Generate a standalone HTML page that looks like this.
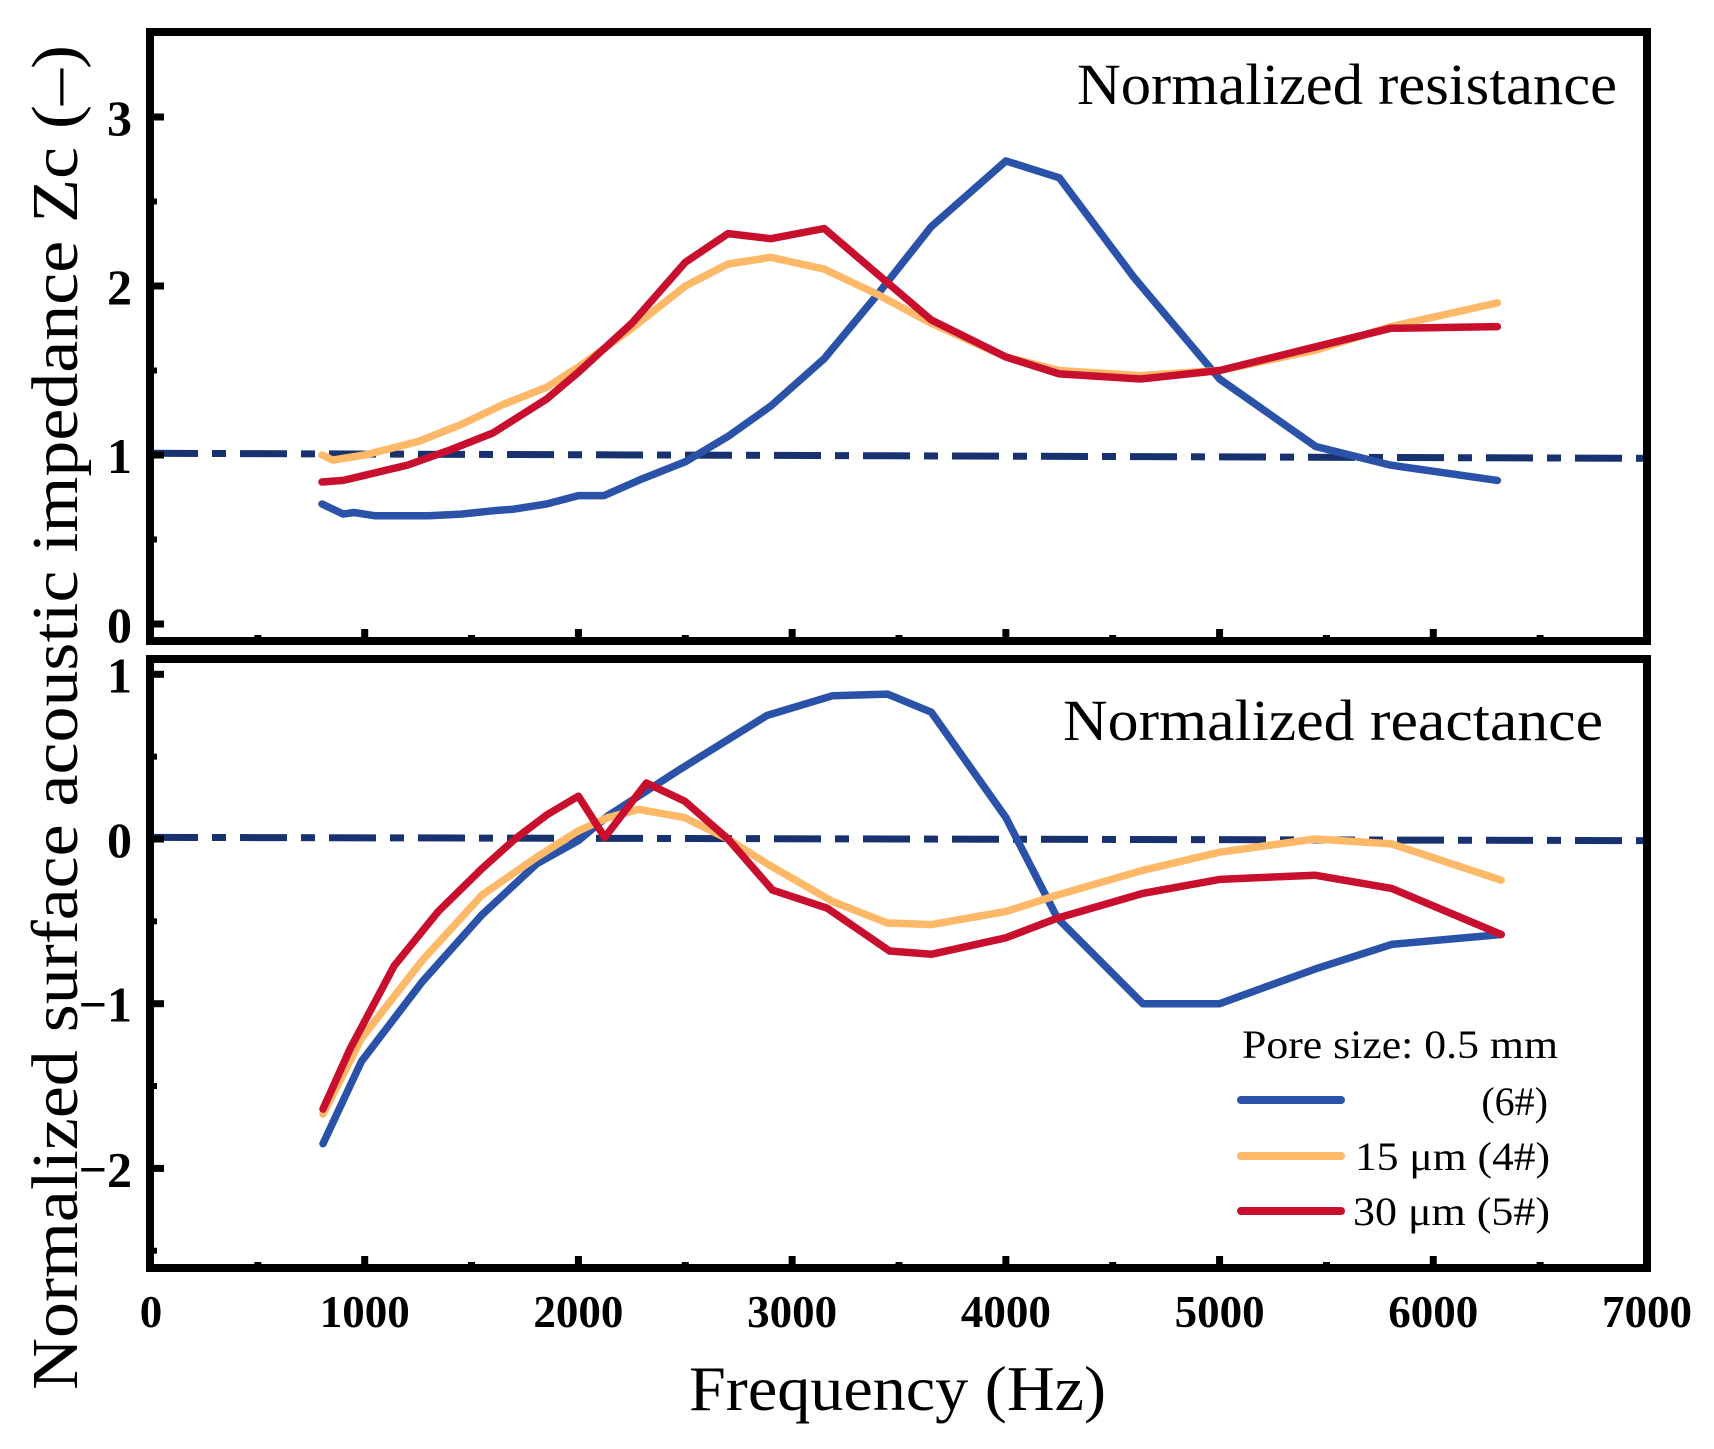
<!DOCTYPE html>
<html><head><meta charset="utf-8"><style>
html,body{margin:0;padding:0;background:#fff}
svg{display:block}
text{font-family:"Liberation Serif",serif;fill:#000}
</style></head><body>
<svg id="chart" width="1714" height="1449" viewBox="0 0 1714 1449">
<g id="g"></g>
<text x="1077" y="104" font-size="58" textLength="540" lengthAdjust="spacingAndGlyphs">Normalized resistance</text>
<text x="1063" y="740" font-size="58" textLength="540" lengthAdjust="spacingAndGlyphs">Normalized reactance</text>
<text x="689" y="1410" font-size="64" textLength="417" lengthAdjust="spacingAndGlyphs">Frequency (Hz)</text>
<text transform="translate(77,1390) rotate(-90)" x="0" y="0" font-size="66" textLength="1345" lengthAdjust="spacingAndGlyphs">Normalized surface acoustic impedance Zc (–)</text>
<g>
<text x="1242" y="1058" font-size="40" textLength="316" lengthAdjust="spacingAndGlyphs">Pore size: 0.5 mm</text>
<line x1="1241" y1="1100" x2="1341" y2="1100" stroke="#2a52a8" stroke-width="8" stroke-linecap="round"/>
<text x="1548" y="1115" font-size="40" text-anchor="end">(6#)</text>
<line x1="1241" y1="1156" x2="1341" y2="1156" stroke="#fdb868" stroke-width="8" stroke-linecap="round"/>
<text x="1355" y="1170" font-size="40" textLength="195" lengthAdjust="spacingAndGlyphs">15 μm (4#)</text>
<line x1="1241" y1="1211" x2="1341" y2="1211" stroke="#c8102e" stroke-width="8" stroke-linecap="round"/>
<text x="1353" y="1225" font-size="40" textLength="197" lengthAdjust="spacingAndGlyphs">30 μm (5#)</text>
</g>
</svg>
<script>
const freqBlueR=[800,900,950,1050,1200,1300,1450,1600,1700,1850,2000,2120,2300,2500,2700,2900,3150,3400,3650,4000,4250,4600,5000,5450,5800,6300];
const blueR=[0.71,0.65,0.66,0.64,0.64,0.64,0.65,0.67,0.68,0.71,0.76,0.76,0.86,0.96,1.11,1.29,1.57,1.95,2.35,2.74,2.64,2.05,1.45,1.05,0.94,0.85];
const freqOrangeR=[800,850,1000,1250,1450,1650,1850,2000,2250,2500,2700,2900,3150,3400,3650,4000,4250,4630,5000,5450,5800,6300];
const orangeR=[1.0,0.97,1.0,1.08,1.18,1.3,1.4,1.52,1.75,2.0,2.13,2.17,2.1,1.95,1.78,1.58,1.5,1.47,1.5,1.62,1.76,1.9];
const freqRedR=[800,900,1000,1200,1400,1600,1850,2000,2250,2500,2700,2900,3150,3400,3650,4000,4250,4630,5000,5450,5800,6300];
const redR=[0.84,0.85,0.88,0.94,1.03,1.13,1.33,1.49,1.78,2.14,2.31,2.28,2.34,2.07,1.8,1.58,1.48,1.45,1.5,1.64,1.75,1.76];
const freqBlueX=[805,985,1267,1549,1805,2000,2138,2472,2882,3190,3446,3651,4000,4241,4641,5000,5446,5805,6318];
const blueX=[-1.85,-1.35,-0.87,-0.46,-0.15,-0.01,0.14,0.42,0.75,0.87,0.88,0.77,0.13,-0.48,-1.0,-1.0,-0.79,-0.64,-0.58];
const freqOrangeX=[805,985,1267,1549,1805,2000,2138,2282,2497,2700,2882,3190,3446,3651,4000,4241,4641,5000,5446,5805,6318];
const orangeX=[-1.67,-1.21,-0.74,-0.34,-0.11,0.05,0.13,0.18,0.13,0,-0.15,-0.38,-0.51,-0.52,-0.44,-0.34,-0.19,-0.08,0,-0.03,-0.25];
const freqRedX=[805,933,1138,1344,1549,1703,1856,2000,2123,2318,2497,2700,2908,3164,3456,3651,4000,4241,4641,5000,5446,5805,6318];
const redX=[-1.64,-1.27,-0.77,-0.44,-0.18,0,0.15,0.26,0.01,0.34,0.23,0,-0.31,-0.42,-0.68,-0.7,-0.6,-0.48,-0.33,-0.245,-0.22,-0.3,-0.58];
const xTicks=[0,1000,2000,3000,4000,5000,6000,7000];
const yTicksTop=[0,1,2,3];
const yTicksBot=[-2,-1,0,1];
const refTop=[1.01,0.98];
const refBot=[0.01,-0.01];

const NS="http://www.w3.org/2000/svg";
const g=document.getElementById('g');
function X(f){return 151+f*(1647-151)/7000;}
function Yt(v){return 624-v*169;}
function Yb(v){return 839-v*164.7;}
function mk(tag,attrs,parent){const e=document.createElementNS(NS,tag);for(const k in attrs)e.setAttribute(k,attrs[k]);(parent||g).appendChild(e);return e;}
function series(fs,vs,Y,color,name){
  const d=fs.map((f,i)=>(i?'L':'M')+X(f).toFixed(1)+','+Y(vs[i]).toFixed(1)).join(' ');
  const p=mk('path',{d:d,fill:'none',stroke:color,'stroke-width':7.5,'stroke-linejoin':'round','stroke-linecap':'round'});
  
  
}
function refLine(vals,Y,name){
  const p=mk('line',{x1:X(0),y1:Y(vals[0]),x2:1660,y2:Y(vals[1]),stroke:'#17326e','stroke-width':7,'stroke-dasharray':'47 14 14 14'});
  
  
}
const panels=[{top:32,bot:641,Y:Yt,ticks:yTicksTop,minor:[0.5,1.5,2.5,3.5],name:'resistance'},{top:659,bot:1268,Y:Yb,ticks:yTicksBot,minor:[-2.5,-1.5,-0.5,0.5],name:'reactance'}];
panels.forEach(p=>{
  refLine(p.name==='resistance'?refTop:refBot,p.Y,p.name+'-reference-line');
});
series(freqBlueR,blueR,Yt,'#2a52a8','resistance-6-series');
series(freqOrangeR,orangeR,Yt,'#fdb868','resistance-4-series');
series(freqRedR,redR,Yt,'#c8102e','resistance-5-series');
series(freqBlueX,blueX,Yb,'#2a52a8','reactance-6-series');
series(freqOrangeX,orangeX,Yb,'#fdb868','reactance-4-series');
series(freqRedX,redX,Yb,'#c8102e','reactance-5-series');
panels.forEach(p=>{
  const fr=mk('rect',{x:150,y:p.top,width:1497,height:p.bot-p.top,fill:'none',stroke:'#000','stroke-width':8});
  
  
  p.ticks.forEach(v=>{
    const y=p.Y(v);
    mk('line',{x1:150,y1:y,x2:164,y2:y,stroke:'#000','stroke-width':7});
    const t=mk('text',{x:132,y:y+18,'text-anchor':'end','font-size':50,'font-weight':'bold'});
    t.textContent=(v<0?'\u2212':'')+Math.abs(v);
    
    
  });
  p.minor.forEach(v=>{const y=p.Y(v);mk('line',{x1:150,y1:y,x2:157,y2:y,stroke:'#000','stroke-width':6});});
  for(let f=500;f<7000;f+=500){
    const len=(f%1000===0)?12:6;
    mk('line',{x1:X(f),y1:p.bot,x2:X(f),y2:p.bot-len,stroke:'#000','stroke-width':7});
  }
});
xTicks.forEach(f=>{
  const t=mk('text',{x:X(f),y:1327,'text-anchor':'middle','font-size':45,'font-weight':'bold'});
  t.textContent=f;
  
  
});
</script>
</body></html>
